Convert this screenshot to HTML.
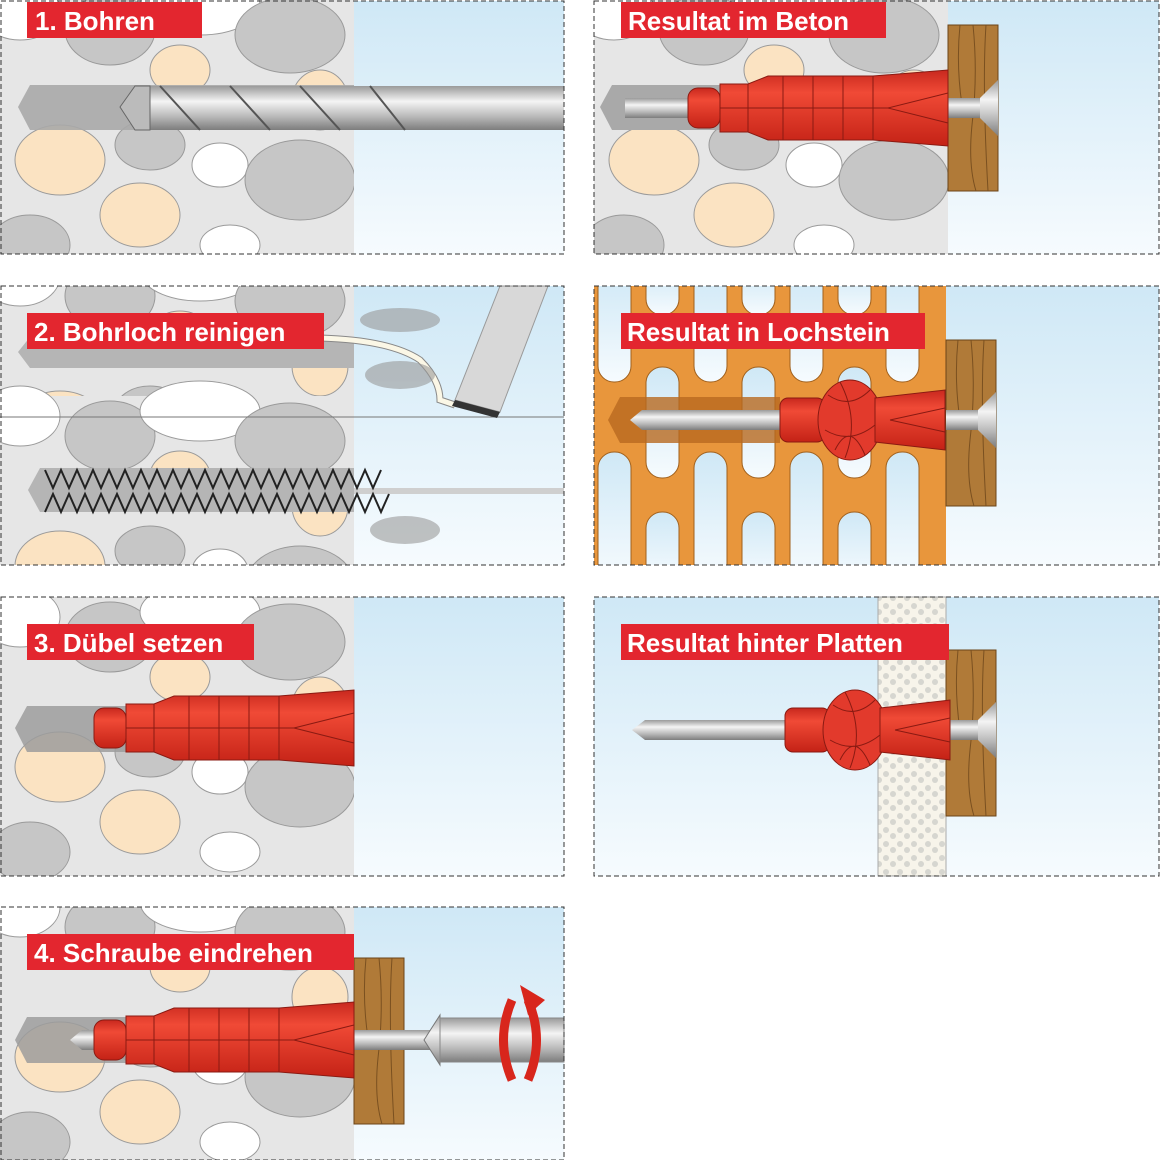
<!DOCTYPE html>
<html><head><meta charset="utf-8"><style>
html,body{margin:0;padding:0;background:#fff}
svg{display:block}
.lbl{font-family:"Liberation Sans",sans-serif;font-weight:bold;font-size:26px;fill:#fff}
</style></head><body>
<svg width="1160" height="1160" viewBox="0 0 1160 1160" xmlns="http://www.w3.org/2000/svg">
<defs>
<linearGradient id="sky" x1="0" y1="0" x2="0" y2="1"><stop offset="0" stop-color="#cfe8f6"/><stop offset="1" stop-color="#f6fbfe"/></linearGradient>
<linearGradient id="steel" x1="0" y1="0" x2="0" y2="1"><stop offset="0" stop-color="#9a9a9a"/><stop offset="0.35" stop-color="#f4f4f4"/><stop offset="0.7" stop-color="#b8b8b8"/><stop offset="1" stop-color="#7d7d7d"/></linearGradient>
<linearGradient id="red" x1="0" y1="0" x2="0" y2="1"><stop offset="0" stop-color="#c8281e"/><stop offset="0.3" stop-color="#f04a36"/><stop offset="1" stop-color="#c42216"/></linearGradient>
<pattern id="dots" width="14" height="14" patternUnits="userSpaceOnUse"><rect width="14" height="14" fill="#f7f4ea"/><circle cx="4" cy="4" r="3" fill="#d6d6d0"/><circle cx="11" cy="10" r="3" fill="#d6d6d0"/></pattern>
<g id="stones">
<rect x="0" y="0" width="354" height="300" fill="#e6e6e6"/>
<g stroke="#9a9a9a" stroke-width="1">
<ellipse cx="20" cy="20" rx="40" ry="30" fill="#fff"/>
<ellipse cx="110" cy="40" rx="45" ry="35" fill="#c6c6c6"/>
<ellipse cx="200" cy="15" rx="60" ry="30" fill="#fff"/>
<ellipse cx="290" cy="45" rx="55" ry="38" fill="#c6c6c6"/>
<ellipse cx="60" cy="170" rx="45" ry="35" fill="#fbe3c2"/>
<ellipse cx="150" cy="155" rx="35" ry="25" fill="#c6c6c6"/>
<ellipse cx="220" cy="175" rx="28" ry="22" fill="#fff"/>
<ellipse cx="300" cy="190" rx="55" ry="40" fill="#c6c6c6"/>
<ellipse cx="140" cy="225" rx="40" ry="32" fill="#fbe3c2"/>
<ellipse cx="30" cy="255" rx="40" ry="30" fill="#c6c6c6"/>
<ellipse cx="230" cy="255" rx="30" ry="20" fill="#fff"/>
<ellipse cx="180" cy="80" rx="30" ry="25" fill="#fbe3c2"/>
<ellipse cx="320" cy="110" rx="28" ry="30" fill="#fbe3c2"/>
</g></g>
<g id="dowel">
<rect x="0" y="-20" width="32" height="40" rx="10" fill="url(#red)" stroke="#8a1a12"/>
<polygon points="32,-24 60,-24 80,-32 185,-32 260,-38 260,38 185,32 80,32 60,24 32,24" fill="url(#red)" stroke="#8a1a12"/>
<g stroke="#8a1a12" fill="none">
<line x1="60" y1="-24" x2="60" y2="24"/><line x1="95" y1="-32" x2="95" y2="32"/><line x1="125" y1="-32" x2="125" y2="32"/><line x1="155" y1="-32" x2="155" y2="32"/><line x1="185" y1="-32" x2="185" y2="32"/>
<line x1="32" y1="0" x2="200" y2="0"/><line x1="200" y1="0" x2="260" y2="-15"/><line x1="200" y1="0" x2="260" y2="15"/>
</g></g>
<g id="knot">
<rect x="0" y="-22" width="45" height="44" rx="8" fill="url(#red)" stroke="#8a1a12"/>
<ellipse cx="70" cy="0" rx="32" ry="40" fill="#e23a2c" stroke="#8a1a12"/>
<path d="M48,-25 Q70,-10 90,-30 M45,10 Q70,25 95,5 M55,30 Q70,0 85,35 M60,-38 Q80,0 65,38" stroke="#8a1a12" fill="none"/>
<polygon points="95,-22 165,-30 165,30 95,22" fill="url(#red)" stroke="#8a1a12"/>
<path d="M110,0 L165,-12 M110,0 L165,12" stroke="#8a1a12"/>
</g>
<g id="screwhead">
<rect x="0" y="-10" width="32" height="20" fill="url(#steel)"/>
<polygon points="32,-10 50,-28 50,28 32,10" fill="url(#steel)"/>
</g>
<g id="wood">
<rect x="0" y="0" width="50" height="166" fill="#b07a38" stroke="#6b4418"/>
<path d="M12,0 Q8,40 14,80 M25,0 Q30,50 24,100 Q20,140 28,166 M38,0 Q34,60 40,166" stroke="#7a5020" fill="none"/>
</g>
<clipPath id="cR2"><rect x="594" y="286" width="352" height="279"/></clipPath>
</defs>

<!-- Panel 1 -->
<rect x="1" y="1" width="563" height="253" fill="url(#sky)"/>
<g transform="translate(0,0)"><svg width="354" height="254"><use href="#stones" transform="translate(0,-10)"/></svg></g>
<polygon points="18,107 30,85 354,85 354,130 30,130" fill="#a9a9a9" opacity="0.9"/>
<rect x="150" y="86" width="414" height="44" fill="url(#steel)"/>
<polygon points="120,107 135,86 150,86 150,130 135,130" fill="#bbb" stroke="#666"/>
<g stroke="#555" stroke-width="2" fill="none"><path d="M160,86 L200,130 M230,86 L270,130 M300,86 L340,130 M370,86 L405,130"/></g>
<rect x="1" y="1" width="563" height="253" fill="none" stroke="#333" stroke-dasharray="5,3"/>
<rect x="27" y="2" width="175" height="36" fill="#e3262f"/><text x="35" y="30" class="lbl">1. Bohren</text>

<!-- Right 1 -->
<rect x="594" y="1" width="565" height="253" fill="url(#sky)"/>
<g transform="translate(594,0)"><svg width="354" height="254"><use href="#stones" transform="translate(0,-10)"/></svg></g>
<polygon points="600,107 612,85 948,85 948,130 612,130" fill="#a9a9a9"/>
<rect x="625" y="98" width="80" height="20" fill="url(#steel)"/>
<use href="#wood" transform="translate(948,25)"/>
<use href="#screwhead" transform="translate(948,108)"/>
<use href="#dowel" transform="translate(688,108)"/>
<rect x="594" y="1" width="565" height="253" fill="none" stroke="#333" stroke-dasharray="5,3"/>
<rect x="621" y="2" width="265" height="36" fill="#e3262f"/><text x="628" y="30" class="lbl">Resultat im Beton</text>

<!-- Panel 2 -->
<rect x="1" y="286" width="563" height="279" fill="url(#sky)"/>
<g transform="translate(0,286)"><svg width="354" height="279"><use href="#stones" transform="translate(0,-30)"/><use href="#stones" transform="translate(0,110)"/></svg></g>
<polygon points="18,352 30,337 354,337 354,368 30,368" fill="#b5b5b5"/>
<line x1="0" y1="417" x2="564" y2="417" stroke="#777"/>
<polygon points="28,490 40,468 354,468 354,512 40,512" fill="#b5b5b5"/>
<rect x="354" y="488" width="210" height="6" fill="#cfcfcf"/>
<g stroke="#222" stroke-width="2"><path d="M45,470 l8,18 l8,-18 l8,18 l8,-18 l8,18 l8,-18 l8,18 l8,-18 l8,18 l8,-18 l8,18 l8,-18 l8,18 l8,-18 l8,18 l8,-18 l8,18 l8,-18 l8,18 l8,-18 l8,18 l8,-18 l8,18 l8,-18 l8,18 l8,-18 l8,18 l8,-18 l8,18 l8,-18 l8,18 l8,-18 l8,18 l8,-18 l8,18 l8,-18 l8,18 l8,-18 l8,18 l8,-18 l8,18 l8,-18" fill="none"/><path d="M45,512 l8,-18 l8,18 l8,-18 l8,18 l8,-18 l8,18 l8,-18 l8,18 l8,-18 l8,18 l8,-18 l8,18 l8,-18 l8,18 l8,-18 l8,18 l8,-18 l8,18 l8,-18 l8,18 l8,-18 l8,18 l8,-18 l8,18 l8,-18 l8,18 l8,-18 l8,18 l8,-18 l8,18 l8,-18 l8,18 l8,-18 l8,18 l8,-18 l8,18 l8,-18 l8,18 l8,-18 l8,18 l8,-18 l8,18 l8,-18" fill="none"/></g>
<path d="M320,338 Q390,340 420,360 Q440,380 440,400 L455,405" stroke="#888" stroke-width="7" fill="none"/>
<path d="M320,338 Q390,340 420,360 Q440,380 440,400 L455,405" stroke="#fbf7e6" stroke-width="5" fill="none"/>
<polygon points="500,286 548,286 500,412 455,400" fill="#d8d8d8" stroke="#999"/>
<polygon points="455,400 500,412 497,418 452,406" fill="#333"/>
<g fill="#999" opacity="0.6"><ellipse cx="400" cy="320" rx="40" ry="12"/><ellipse cx="400" cy="375" rx="35" ry="14"/><ellipse cx="405" cy="530" rx="35" ry="14"/></g>
<rect x="1" y="286" width="563" height="279" fill="none" stroke="#333" stroke-dasharray="5,3"/>
<rect x="27" y="313" width="297" height="36" fill="#e3262f"/><text x="34" y="341" class="lbl">2. Bohrloch reinigen</text>

<!-- Right 2 -->
<rect x="594" y="286" width="565" height="279" fill="url(#sky)"/>
<g clip-path="url(#cR2)">
<rect x="594" y="286" width="352" height="279" fill="#e8963c"/>
<g fill="url(#sky)" stroke="#a0601c">
<rect x="598" y="270" width="33" height="112" rx="16"/><rect x="598" y="452" width="33" height="130" rx="16"/>
<rect x="646" y="270" width="33" height="45" rx="16"/><rect x="646" y="367" width="33" height="111" rx="16"/><rect x="646" y="512" width="33" height="70" rx="16"/>
<rect x="694" y="270" width="33" height="112" rx="16"/><rect x="694" y="452" width="33" height="130" rx="16"/>
<rect x="742" y="270" width="33" height="45" rx="16"/><rect x="742" y="367" width="33" height="111" rx="16"/><rect x="742" y="512" width="33" height="70" rx="16"/>
<rect x="790" y="270" width="33" height="112" rx="16"/><rect x="790" y="452" width="33" height="130" rx="16"/>
<rect x="838" y="270" width="33" height="45" rx="16"/><rect x="838" y="367" width="33" height="111" rx="16"/><rect x="838" y="512" width="33" height="70" rx="16"/>
<rect x="886" y="270" width="33" height="112" rx="16"/><rect x="886" y="452" width="33" height="130" rx="16"/>
</g>
<polygon points="608,420 620,397 780,397 780,443 620,443" fill="#b8691f" opacity="0.8"/>
</g>
<polygon points="630,420 642,410 780,410 780,430 642,430" fill="url(#steel)"/>
<use href="#wood" transform="translate(946,340)"/>
<use href="#screwhead" transform="translate(946,420)"/>
<use href="#knot" transform="translate(780,420)"/>
<rect x="594" y="286" width="565" height="279" fill="none" stroke="#333" stroke-dasharray="5,3"/>
<rect x="621" y="313" width="304" height="36" fill="#e3262f"/><text x="627" y="341" class="lbl">Resultat in Lochstein</text>

<!-- Panel 3 -->
<rect x="1" y="597" width="563" height="279" fill="url(#sky)"/>
<g transform="translate(0,597)"><svg width="354" height="279"><use href="#stones"/></svg></g>
<polygon points="15,728 27,706 354,706 354,752 27,752" fill="#9c9c9c" opacity="0.85"/>
<use href="#dowel" transform="translate(94,728)"/>
<rect x="1" y="597" width="563" height="279" fill="none" stroke="#333" stroke-dasharray="5,3"/>
<rect x="27" y="624" width="227" height="36" fill="#e3262f"/><text x="34" y="652" class="lbl">3. Dübel setzen</text>

<!-- Right 3 -->
<rect x="594" y="597" width="565" height="279" fill="url(#sky)"/>
<rect x="878" y="597" width="68" height="279" fill="url(#dots)" stroke="#aaa"/>
<polygon points="632,730 645,720 790,720 790,740 645,740" fill="url(#steel)"/>
<use href="#wood" transform="translate(946,650)"/>
<use href="#screwhead" transform="translate(946,730)"/>
<use href="#knot" transform="translate(785,730)"/>
<rect x="594" y="597" width="565" height="279" fill="none" stroke="#333" stroke-dasharray="5,3"/>
<rect x="621" y="624" width="328" height="36" fill="#e3262f"/><text x="627" y="652" class="lbl">Resultat hinter Platten</text>

<!-- Panel 4 -->
<rect x="1" y="907" width="563" height="253" fill="url(#sky)"/>
<g transform="translate(0,907)"><svg width="354" height="253"><use href="#stones" transform="translate(0,-20)"/></svg></g>
<polygon points="15,1040 27,1017 354,1017 354,1063 27,1063" fill="#9c9c9c" opacity="0.85"/>
<polygon points="70,1040 82,1030 120,1030 120,1050 82,1050" fill="url(#steel)"/>
<use href="#wood" transform="translate(354,958)"/>
<rect x="354" y="1030" width="90" height="20" fill="url(#steel)"/>
<polygon points="424,1040 440,1015 440,1065" fill="url(#steel)" stroke="#777"/>
<rect x="440" y="1018" width="124" height="44" fill="url(#steel)" stroke="#888"/>
<use href="#dowel" transform="translate(94,1040)"/>
<path d="M512,1000 Q495,1040 512,1080" stroke="#d8261c" stroke-width="9" fill="none"/>
<path d="M528,1080 Q545,1040 528,1000" stroke="#d8261c" stroke-width="9" fill="none"/>
<polygon points="520,985 545,1000 528,1015" fill="#d8261c"/>
<rect x="1" y="907" width="563" height="253" fill="none" stroke="#333" stroke-dasharray="5,3"/>
<rect x="27" y="934" width="327" height="36" fill="#e3262f"/><text x="34" y="962" class="lbl">4. Schraube eindrehen</text>
</svg>
</body></html>
